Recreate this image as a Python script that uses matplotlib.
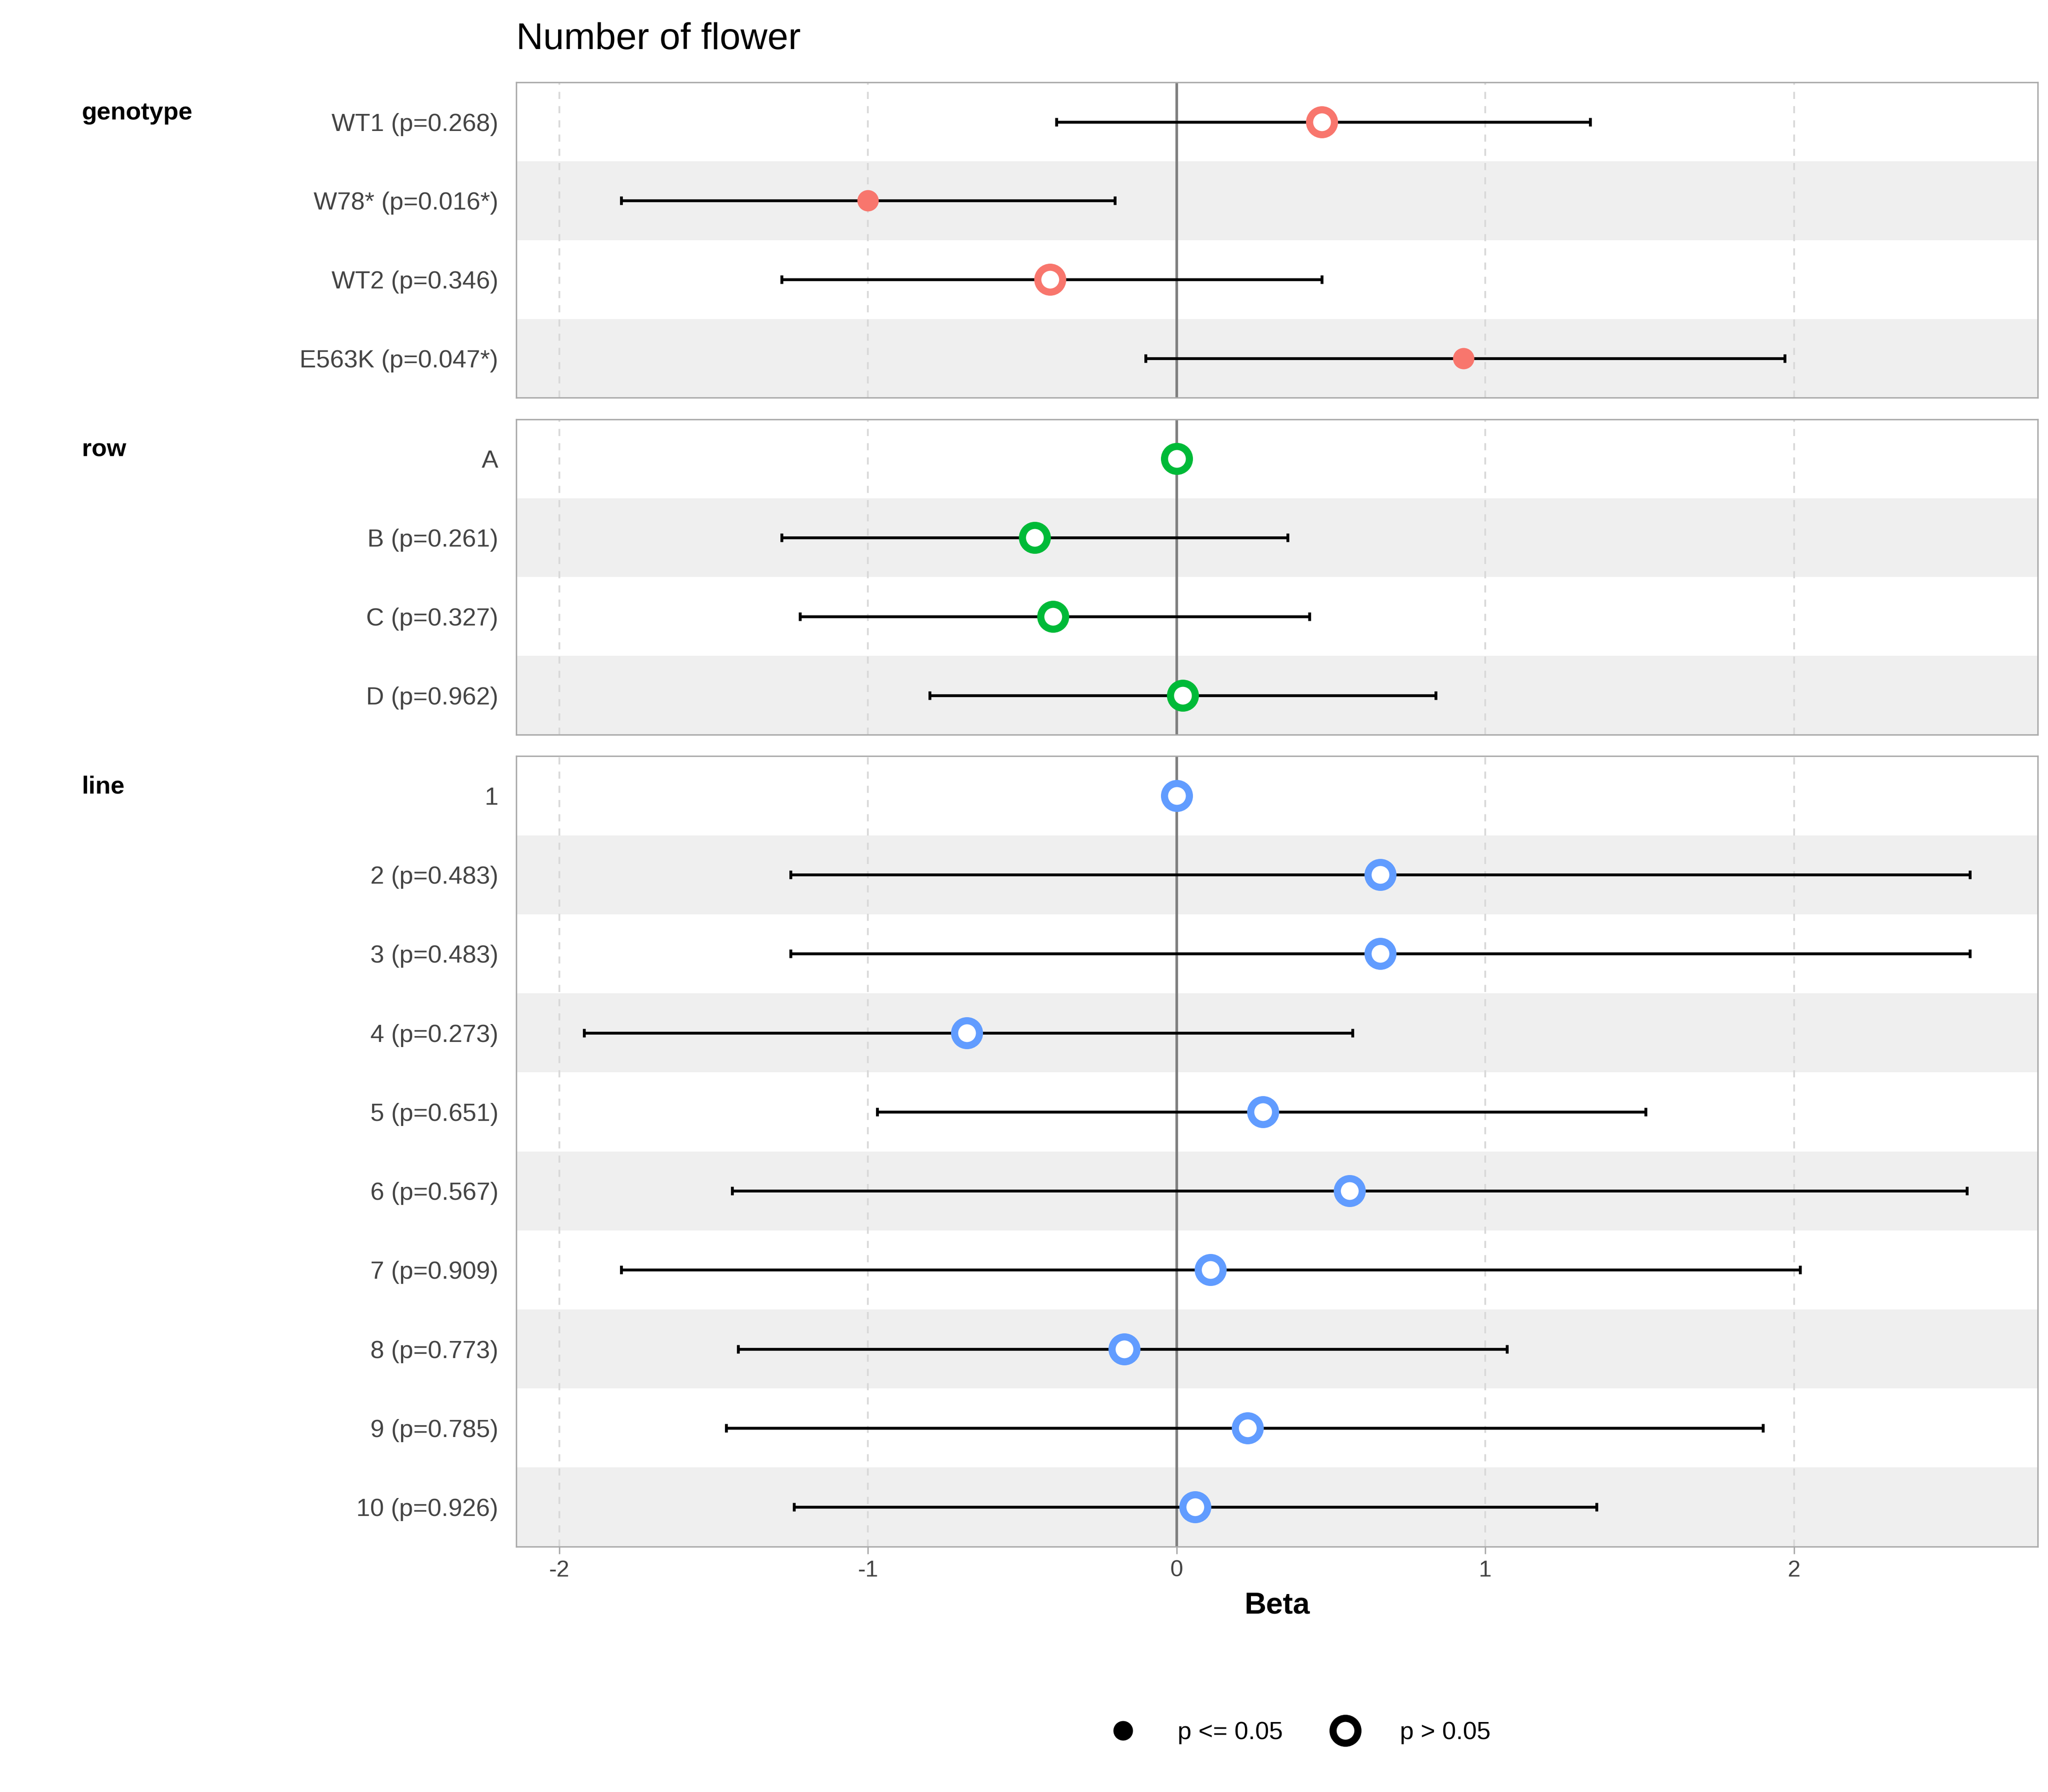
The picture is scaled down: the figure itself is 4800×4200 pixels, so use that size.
import matplotlib.pyplot as plt
from matplotlib.lines import Line2D

# data
geno_labels = ["WT1 (p=0.268)", "W78* (p=0.016*)", "WT2 (p=0.346)", "E563K (p=0.047*)"]
geno_beta = [0.47, -1.00, -0.41, 0.93]
geno_lo = [-0.39, -1.80, -1.28, -0.10]
geno_hi = [1.34, -0.20, 0.47, 1.97]
geno_sig = [False, True, False, True]

row_labels = ["A", "B (p=0.261)", "C (p=0.327)", "D (p=0.962)"]
row_beta = [0.0, -0.46, -0.40, 0.02]
row_lo = [None, -1.28, -1.22, -0.80]
row_hi = [None, 0.36, 0.43, 0.84]
row_sig = [False, False, False, False]

line_labels = ["1", "2 (p=0.483)", "3 (p=0.483)", "4 (p=0.273)", "5 (p=0.651)",
               "6 (p=0.567)", "7 (p=0.909)", "8 (p=0.773)", "9 (p=0.785)", "10 (p=0.926)"]
line_beta = [0.0, 0.66, 0.66, -0.68, 0.28, 0.56, 0.11, -0.17, 0.23, 0.06]
line_lo = [None, -1.25, -1.25, -1.92, -0.97, -1.44, -1.80, -1.42, -1.46, -1.24]
line_hi = [None, 2.57, 2.57, 0.57, 1.52, 2.56, 2.02, 1.07, 1.90, 1.36]
line_sig = [False] * 10

groups = [
    ("genotype", geno_labels, geno_beta, geno_lo, geno_hi, geno_sig, "#F8766D"),
    ("row", row_labels, row_beta, row_lo, row_hi, row_sig, "#00BA38"),
    ("line", line_labels, line_beta, line_lo, line_hi, line_sig, "#619CFF"),
]
boxes = [(0.778, 0.954), (0.590, 0.766), (0.137, 0.578)]

plt.rcParams['font.family'] = ['Liberation Sans', 'DejaVu Sans']
fig = plt.figure(figsize=(16, 14), dpi=300)
left, right = 0.252, 0.995
xmin, xmax = -2.14, 2.79

for i, (name, labels, beta, lo, hi, sig, col) in enumerate(groups):
    b, t = boxes[i]
    ax = fig.add_axes([left, b, right - left, t - b])
    n = len(labels)
    ax.set_xlim(xmin, xmax)
    ax.set_ylim(n - 0.5, -0.5)
    for k in range(n):
        if k % 2 == 1:
            ax.axhspan(k - 0.5, k + 0.5, color="#EFEFEF", lw=0, zorder=0)
    for gx in [-2, -1, 1, 2]:
        ax.axvline(gx, color="#D9D9D9", ls=(0, (4, 4)), lw=1, zorder=1)
    ax.axvline(0, color="#808080", lw=1.5, zorder=2)
    for k in range(n):
        if lo[k] is not None:
            ax.errorbar(beta[k], k, xerr=[[beta[k] - lo[k]], [hi[k] - beta[k]]],
                        fmt="none", ecolor="black", elinewidth=1.6, capsize=2.5,
                        capthick=1.6, zorder=3)
        if sig[k]:
            ax.plot(beta[k], k, "o", color=col, ms=11, zorder=4)
        else:
            ax.plot(beta[k], k, "o", mfc="white", mec=col, mew=4, ms=14, zorder=4)
    ax.set_yticks(range(n))
    ax.set_yticklabels(labels, fontsize=14, color="#444444")
    ax.tick_params(axis="y", length=0, pad=10)
    for s in ax.spines.values():
        s.set_color("#AAAAAA")
    ax.set_xticks([-2, -1, 0, 1, 2])
    if i < 2:
        ax.tick_params(axis="x", length=0, labelbottom=False)
    else:
        ax.set_xticklabels(["-2", "-1", "0", "1", "2"], fontsize=13, color="#444444")
        ax.tick_params(axis="x", length=4, color="#AAAAAA")
        ax.set_xlabel("Beta", fontsize=17, fontweight="bold", labelpad=6)
    ax.text(0.04, 0.0, name, transform=ax.get_yaxis_transform() if False else None,
            fontsize=14, fontweight="bold") if False else None
    # group label aligned with first row
    y_fig = fig.transFigure.inverted().transform(ax.transData.transform((0, 0)))[1]
    fig.text(0.04, y_fig + 0.005, name, fontsize=14, fontweight="bold", va="center")

fig.text(left, 0.978, "Number of flower", fontsize=21, va="center")

handles = [Line2D([], [], ls="none", marker="o", color="black", ms=10),
           Line2D([], [], ls="none", marker="o", mfc="white", mec="black", mew=4, ms=14)]
fig.legend(handles, ["p <= 0.05", "p > 0.05"], loc="center", bbox_to_anchor=(0.632, 0.033),
           ncol=2, frameon=False, fontsize=14, handletextpad=1.2, columnspacing=1.5)

fig.savefig("out.png", dpi=300)
